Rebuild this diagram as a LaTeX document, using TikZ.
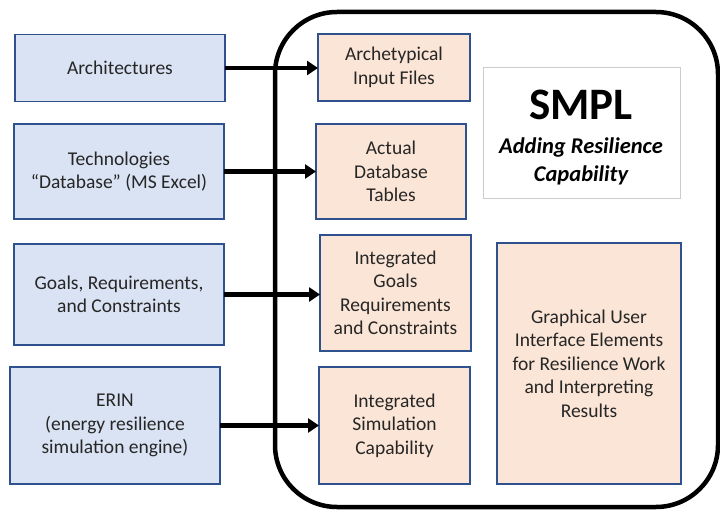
\documentclass[tikz,border=0pt]{standalone}
\usepackage{fontspec}
\setmainfont{Carlito}
\usetikzlibrary{arrows.meta}
\definecolor{bluefill}{HTML}{DAE3F3}
\definecolor{orfill}{HTML}{FBE5D6}
\definecolor{boxline}{HTML}{2F528F}
\begin{document}
\begin{tikzpicture}[x=1pt,y=-1pt,
  box/.style={draw=boxline,line width=1.5pt,align=center,inner sep=2pt,outer sep=0pt,
    font=\fontsize{19.5}{23.5}\selectfont,text=black!85},
  inbox/.style={box,fill=bluefill},
  outbox/.style={box,fill=orfill},
  flow/.style={line width=4.8pt,-{Triangle[length=11pt,width=14pt]}}]
\useasboundingbox (0,0) rectangle (720,510);
% big frame
\node[draw,line width=4.5pt,rounded corners=62pt,minimum width=443pt,minimum height=495pt,outer sep=0pt] (frame) at (496.5,259.5) {};
% inputs
\node[inbox,minimum width=210pt,minimum height=67pt] (arch) at (120,68) {Architectures};
\node[inbox,minimum width=210pt,minimum height=95pt] (tech) at (119,171.5) {Technologies\\“Database” (MS Excel)};
\node[inbox,minimum width=210pt,minimum height=101pt] (goals) at (119,294.5) {Goals, Requirements,\\and Constraints};
\node[inbox,minimum width=210pt,minimum height=117pt] (erin) at (115,425.5) {ERIN\\(energy resilience\\simulation engine)};
% SMPL elements
\node[outbox,minimum width=152pt,minimum height=67pt] (o1) at (394,67.5) {Archetypical\\Input Files};
\node[outbox,minimum width=150pt,minimum height=95pt] (o2) at (391,171.5) {Actual\\Database\\Tables};
\node[outbox,minimum width=151pt,minimum height=116pt] (o3) at (395.5,293) {Integrated\\Goals\\Requirements\\and Constraints};
\node[outbox,minimum width=151pt,minimum height=117pt] (o4) at (394.5,425.5) {Integrated\\Simulation\\Capability};
\node[outbox,minimum width=184pt,minimum height=241pt] (gui) at (589,363.5) {Graphical User\\Interface Elements\\for Resilience Work\\and Interpreting\\Results};
% title box
\node[draw=black!20,line width=0.8pt,fill=white,minimum width=197pt,minimum height=131pt,outer sep=0pt] (smpl) at (581.5,132.5) {};
\node[font=\fontsize{45}{50}\selectfont\bfseries,inner sep=0pt] (title) at (581,105) {SMPL};
\node[font=\fontsize{22.5}{28}\selectfont\bfseries\itshape,align=center,inner sep=0pt] (sub) at (581,161) {Adding Resilience\\Capability};
% arrows
\draw[flow] (arch.east) -- (arch.east -| o1.west);
\draw[flow] (tech.east) -- (tech.east -| o2.west);
\draw[flow] (goals.east) -- (goals.east -| o3.west);
\draw[flow] (erin.east) -- (erin.east -| o4.west);
\end{tikzpicture}
\end{document}
